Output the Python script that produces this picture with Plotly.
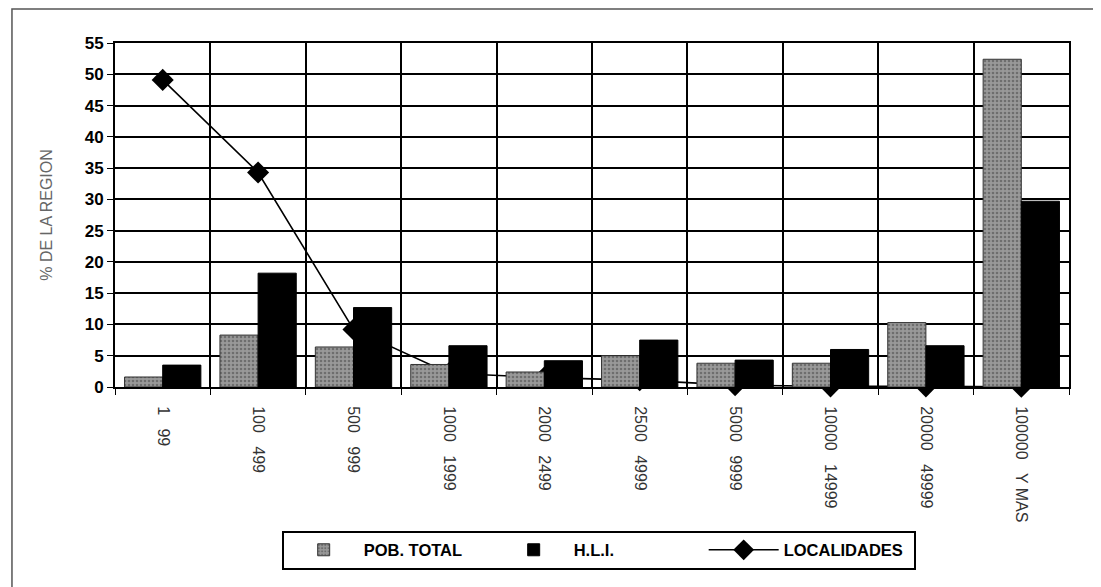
import plotly.graph_objects as go

NB = "\u00a0\u00a0\u00a0"
categories = ["1" + NB + "99", "100" + NB + "499", "500" + NB + "999", "1000" + NB + "1999",
              "2000" + NB + "2499", "2500" + NB + "4999", "5000" + NB + "9999",
              "10000" + NB + "14999", "20000" + NB + "49999", "100000" + NB + "Y MAS"]
pob_total = [1.6, 8.3, 6.4, 3.6, 2.4, 5.0, 3.8, 3.8, 10.3, 52.4]
hli = [3.5, 18.2, 12.7, 6.6, 4.2, 7.5, 4.3, 6.0, 6.6, 29.7]
localidades = [49.1, 34.3, 9.2, 2.2, 1.5, 1.1, 0.3, 0.1, 0.1, 0.05]
y_ticks = list(range(0, 56, 5))

fig = go.Figure()
# line drawn on the base axes so the bars (on the overlaying axes) cover it
fig.add_trace(go.Scatter(
    x=categories, y=localidades, name="LOCALIDADES", mode="lines+markers",
    line=dict(color="#000", width=1.6),
    marker=dict(symbol="diamond", size=17, color="#000"),
    cliponaxis=False, legendrank=3, xaxis="x", yaxis="y",
))
fig.add_trace(go.Bar(
    x=categories, y=pob_total, name="POB. TOTAL", legendrank=1,
    marker=dict(color="#8c8c8c", line=dict(color="#333", width=1),
                pattern=dict(shape=".", fgcolor="#444", bgcolor="#999999", size=4, solidity=0.35)),
    xaxis="x2", yaxis="y2", offsetgroup="a",
))
fig.add_trace(go.Bar(
    x=categories, y=hli, name="H.L.I.", legendrank=2,
    marker=dict(color="#000000", line=dict(color="#000", width=1)),
    xaxis="x2", yaxis="y2", offsetgroup="b",
))

fig.update_layout(
    width=1093, height=579,
    margin=dict(l=107, r=32, t=35, b=200),
    paper_bgcolor="white", plot_bgcolor="white",
    barmode="group", bargap=0.2, bargroupgap=0.0,
    font=dict(family="Liberation Sans, Arial, sans-serif", color="#000"),
    legend=dict(
        orientation="h", x=0.507, xanchor="center", y=-0.474, yanchor="middle",
        bordercolor="#000", borderwidth=2, bgcolor="white",
        font=dict(family="Liberation Sans Narrow, Liberation Sans, Arial", size=16.5, color="#000", weight="bold"),
        itemwidth=70, entrywidth=125, traceorder="normal",
    ),
    shapes=[dict(type="rect", xref="paper", yref="paper",
                 x0=-0.108, x1=1.2, y0=-0.7, y1=1.099,
                 line=dict(color="#555", width=1.5), layer="below")],
    xaxis=dict(
        type="category", categoryorder="array", categoryarray=categories, range=[-0.5, 9.5],
        tickson="boundaries", ticks="outside", ticklen=6, tickcolor="#000",
        showgrid=True, gridcolor="#000", gridwidth=2,
        showline=True, linecolor="#000", linewidth=2, mirror=True,
        tickangle=90, ticklabelstandoff=14,
        tickfont=dict(family="Liberation Sans Narrow, Liberation Sans, Arial", size=16, color="#333"),
    ),
    yaxis=dict(
        range=[0, 55], tickvals=y_ticks, ticks="outside", ticklen=6, tickcolor="#000",
        showgrid=True, gridcolor="#000", gridwidth=2,
        showline=True, linecolor="#000", linewidth=2, mirror=True,
        tickfont=dict(family="Liberation Sans, Arial", size=17, color="#000", weight="bold"),
        title=dict(text="% DE LA REGION", standoff=28,
                   font=dict(family="Liberation Sans Narrow, Liberation Sans, Arial", size=16, color="#666")),
        zeroline=False,
    ),
    xaxis2=dict(type="category", categoryorder="array", categoryarray=categories, range=[-0.5, 9.5],
                overlaying="x", visible=False, showgrid=False),
    yaxis2=dict(range=[0, 55], overlaying="y", visible=False, showgrid=False, zeroline=False),
)

fig.write_html("out.html")
